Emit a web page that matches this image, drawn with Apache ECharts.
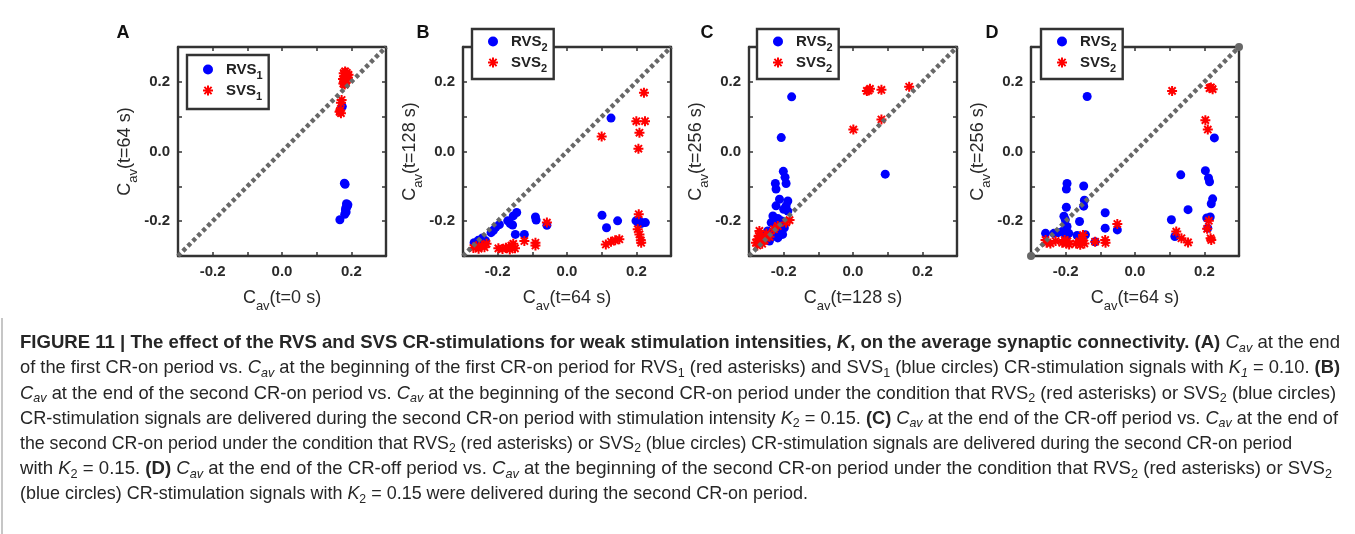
<!DOCTYPE html>
<html><head><meta charset="utf-8">
<script src="https://cdn.jsdelivr.net/npm/echarts@6/dist/echarts.min.js"></script>
<style>html,body{margin:0;padding:0;background:#fff}#c{width:1355px;height:534px}</style>
</head><body><div id="c"></div><script>
// ---------------- data ----------------
const axisMin = -0.3, axisMax = 0.3, axisStep = 0.1;
const tickLabels = ['-0.2', '0.0', '0.2'];
const panelLetters = ['A', 'B', 'C', 'D'];
const xTitles = ['t=0 s', 't=64 s', 't=128 s', 't=64 s'];
const yTitles = ['t=64 s', 't=128 s', 't=256 s', 't=256 s'];
const legendSubs = ['1', '2', '2', '2'];
const diagEnds = [[-0.3, -0.3], [0.3, 0.3]];

const rvsA = [[0.174,0.129],[0.180,-0.091],[0.182,-0.094],[0.167,-0.196],[0.186,-0.150],[0.188,-0.156],[0.184,-0.162],
  [0.183,-0.168],[0.185,-0.174],[0.181,-0.180],[0.190,-0.153],[0.187,-0.160]];
const svsA = [[0.178,0.225],[0.182,0.230],[0.185,0.222],[0.180,0.215],[0.188,0.218],[0.176,0.208],[0.183,0.210],
  [0.190,0.212],[0.186,0.205],[0.179,0.200],[0.184,0.198],[0.181,0.192],[0.187,0.226],[0.192,0.220],[0.177,0.195],
  [0.172,0.148],[0.170,0.140],[0.168,0.118],[0.170,0.110],[0.166,0.114]];

const rvsB = [[0.127,0.096],[-0.268,-0.262],[-0.256,-0.255],[-0.244,-0.248],[-0.235,-0.256],[-0.219,-0.233],[-0.212,-0.226],
  [-0.205,-0.217],[-0.195,-0.210],[-0.171,-0.199],[-0.164,-0.207],[-0.155,-0.185],[-0.145,-0.175],[-0.157,-0.211],
  [-0.149,-0.238],[-0.123,-0.238],[-0.091,-0.188],[-0.089,-0.197],[-0.058,-0.212],[0.101,-0.183],[0.114,-0.219],
  [0.146,-0.199],[0.199,-0.199],[0.205,-0.203],[0.209,-0.200],[0.218,-0.205],[0.226,-0.204],[0.212,-0.207]];
const svsB = [[0.222,0.169],[0.200,0.087],[0.225,0.087],[0.209,0.054],[0.206,0.008],[0.100,0.043],[-0.058,-0.204],
  [0.207,-0.180],[0.204,-0.223],[0.209,-0.238],[0.213,-0.255],[0.214,-0.262],[0.112,-0.267],[0.127,-0.259],[0.139,-0.255],
  [0.151,-0.252],[-0.123,-0.257],[-0.091,-0.262],[-0.091,-0.270],[-0.270,-0.277],[-0.262,-0.272],[-0.255,-0.279],
  [-0.245,-0.270],[-0.238,-0.275],[-0.232,-0.265],[-0.198,-0.278],[-0.186,-0.280],[-0.176,-0.276],[-0.168,-0.274],
  [-0.160,-0.270],[-0.155,-0.265],[-0.150,-0.278],[-0.165,-0.281]];

const rvsC = [[-0.177,0.157],[-0.207,0.040],[0.093,-0.065],[-0.201,-0.057],[-0.196,-0.074],[-0.193,-0.092],[-0.224,-0.092],
  [-0.222,-0.108],[-0.212,-0.137],[-0.222,-0.156],[-0.188,-0.142],[-0.193,-0.156],[-0.200,-0.166],[-0.188,-0.171],
  [-0.231,-0.185],[-0.217,-0.192],[-0.207,-0.199],[-0.236,-0.204],[-0.212,-0.209],[-0.198,-0.219],[-0.222,-0.223],
  [-0.246,-0.228],[-0.203,-0.238],[-0.231,-0.243],[-0.217,-0.248],[-0.250,-0.246],[-0.241,-0.257],[-0.255,-0.240],
  [-0.226,-0.232],[-0.208,-0.228]];
const svsC = [[0.040,0.174],[0.049,0.180],[0.045,0.175],[0.082,0.177],[0.162,0.186],[0.082,0.092],[0.001,0.063],
  [-0.183,-0.197],[-0.193,-0.204],[-0.217,-0.214],[-0.228,-0.223],[-0.270,-0.228],[-0.272,-0.242],[-0.262,-0.246],
  [-0.275,-0.252],[-0.255,-0.255],[-0.268,-0.258],[-0.280,-0.262],[-0.262,-0.265],[-0.241,-0.245],[-0.250,-0.236],
  [-0.276,-0.270]];

const rvsD = [[-0.138,0.158],[0.229,0.039],[0.132,-0.067],[0.203,-0.055],[0.212,-0.076],[0.215,-0.087],[0.224,-0.136],
  [0.220,-0.150],[0.153,-0.167],[0.105,-0.196],[0.207,-0.191],[0.217,-0.188],[0.210,-0.220],[0.115,-0.244],
  [-0.196,-0.092],[-0.198,-0.108],[-0.148,-0.099],[-0.146,-0.140],[-0.148,-0.157],[-0.198,-0.160],[-0.205,-0.186],
  [-0.201,-0.196],[-0.160,-0.201],[-0.086,-0.176],[-0.086,-0.220],[-0.051,-0.225],[-0.258,-0.235],[-0.234,-0.235],
  [-0.210,-0.230],[-0.196,-0.215],[-0.191,-0.235],[-0.167,-0.241],[-0.143,-0.239],[-0.115,-0.259],[-0.198,-0.244],
  [-0.222,-0.233]];
const svsD = [[0.107,0.174],[0.215,0.182],[0.224,0.179],[0.219,0.184],[0.203,0.090],[0.210,0.063],[0.213,-0.199],
  [0.208,-0.222],[0.220,-0.254],[0.218,-0.249],[0.119,-0.230],[0.134,-0.249],[0.153,-0.261],[-0.051,-0.208],
  [-0.258,-0.254],[-0.244,-0.264],[-0.229,-0.257],[-0.203,-0.254],[-0.198,-0.264],[-0.190,-0.267],[-0.195,-0.258],
  [-0.170,-0.264],[-0.160,-0.258],[-0.153,-0.254],[-0.150,-0.240],[-0.146,-0.264],[-0.158,-0.268],[-0.115,-0.259],
  [-0.086,-0.254],[-0.085,-0.262],[-0.255,-0.262],[-0.210,-0.262]];

const rvsSets = [rvsA, rvsB, rvsC, rvsD];
const svsSets = [svsA, svsB, svsC, svsD];

// caption text (style code, text)
const captionLines = [
  [['b','FIGURE 11 | The effect of the RVS and SVS CR-stimulations for weak stimulation intensities, '],['bi','K'],['b',', on the average synaptic connectivity. (A) '],['i','C'],['is','av'],['n',' at the end']],
  [['n','of the first CR-on period vs. '],['i','C'],['is','av'],['n',' at the beginning of the first CR-on period for RVS'],['s','1'],['n',' (red asterisks) and SVS'],['s','1'],['n',' (blue circles) CR-stimulation signals with '],['i','K'],['is','1'],['n',' = 0.10. '],['b','(B)']],
  [['i','C'],['is','av'],['n',' at the end of the second CR-on period vs. '],['i','C'],['is','av'],['n',' at the beginning of the second CR-on period under the condition that RVS'],['s','2'],['n',' (red asterisks) or SVS'],['s','2'],['n',' (blue circles)']],
  [['n','CR-stimulation signals are delivered during the second CR-on period with stimulation intensity '],['i','K'],['s','2'],['n',' = 0.15. '],['b','(C) '],['i','C'],['is','av'],['n',' at the end of the CR-off period vs. '],['i','C'],['is','av'],['n',' at the end of']],
  [['n','the second CR-on period under the condition that RVS'],['s','2'],['n',' (red asterisks) or SVS'],['s','2'],['n',' (blue circles) CR-stimulation signals are delivered during the second CR-on period']],
  [['n','with '],['i','K'],['s','2'],['n',' = 0.15. '],['b','(D) '],['i','C'],['is','av'],['n',' at the end of the CR-off period vs. '],['i','C'],['is','av'],['n',' at the beginning of the second CR-on period under the condition that RVS'],['s','2'],['n',' (red asterisks) or SVS'],['s','2']],
  [['n','(blue circles) CR-stimulation signals with '],['i','K'],['s','2'],['n',' = 0.15 were delivered during the second CR-on period.']]
];

// ---------------- layout / style ----------------
const FF = '"Liberation Sans", Arial, sans-serif';
const AX = '#333333';
const gridLeft = [178, 463, 749, 1031], gridTop = 47, gridW = 208, gridH = 209;
const legLeft = [187, 472, 757, 1041], legTop = [55, 29, 29, 29];
const legPadTop = [7, 5, 5, 5];
const letterPos = [[123, 33], [423, 33], [707, 33], [992, 33]];
const capRight = [1340, 1340, 1336, 1338, 1292, 1332, 808];
const capY0 = 343, capDY = 25.2, capX = 20;
const ASTERISK = 'path://M4.0 0H6.0V10H4.0Z M0 4.0H10V6.0H0Z M0.7 2.1L2.1 0.7L9.3 7.9L7.9 9.3Z M7.9 0.7L9.3 2.1L2.1 9.3L0.7 7.9Z';

function tickFmt(v) {
  const k = Math.round(v * 10);
  if (k % 2 !== 0 || Math.abs(k) > 2) return '';
  return tickLabels[(k + 2) / 2];
}
function axisBase(labels) {
  return {
    type: 'value', min: axisMin, max: axisMax, interval: axisStep,
    splitLine: { show: false },
    axisLine: { show: true, onZero: false, lineStyle: { color: AX, width: 2.4 } },
    axisTick: { show: true, inside: true, length: 4, lineStyle: { color: AX, width: 1.5 } },
    axisLabel: labels ? { show: true, formatter: tickFmt, fontSize: 15, fontWeight: 'bold', fontFamily: FF, color: '#2a2a2a', margin: 8, showMinLabel: true, showMaxLabel: true }
                      : { show: false }
  };
}
const nameRich = {
  c: { fontSize: 18, fontFamily: FF, color: '#2a2a2a', lineHeight: 24 },
  s: { fontSize: 13, fontFamily: FF, color: '#2a2a2a', lineHeight: 24, height: 7, verticalAlign: 'bottom' }
};
const titleStr = t => '{c|C}{s|av}{c|(' + t + ')}';

const grid = [], xAxis = [], yAxis = [], series = [], legend = [], graphic = [];
panelLetters.forEach((L, i) => {
  grid.push({ left: gridLeft[i], top: gridTop, width: gridW, height: gridH, show: false });
  xAxis.push(Object.assign(axisBase(true), { gridIndex: i, position: 'bottom', name: titleStr(xTitles[i]), nameLocation: 'middle', nameGap: 30, nameTextStyle: { rich: nameRich } }));
  xAxis.push(Object.assign(axisBase(false), { gridIndex: i, position: 'top' }));
  yAxis.push(Object.assign(axisBase(true), { gridIndex: i, position: 'left', name: titleStr(yTitles[i]), nameLocation: 'middle', nameGap: 41, nameTextStyle: { rich: nameRich } }));
  yAxis.push(Object.assign(axisBase(false), { gridIndex: i, position: 'right' }));
  const rName = L + '-RVS', sName = L + '-SVS';
  series.push({ type: 'scatter', name: rName, xAxisIndex: 2 * i, yAxisIndex: 2 * i, data: rvsSets[i], symbol: 'circle', symbolSize: 9, itemStyle: { color: '#0000ff', opacity: 1 }, z: 2 });
  series.push({ type: 'scatter', name: sName, xAxisIndex: 2 * i, yAxisIndex: 2 * i, data: svsSets[i], symbol: ASTERISK, symbolSize: 10, itemStyle: { color: '#ff0000', opacity: 1 }, z: 3 });
  series.push({ type: 'line', xAxisIndex: 2 * i, yAxisIndex: 2 * i, data: diagEnds, showSymbol: L === 'D', symbol: 'circle', symbolSize: 8,
    itemStyle: { color: '#686868' }, lineStyle: { color: '#686868', width: 4.5, type: [4, 3] }, z: 4, silent: true, clip: false });
  legend.push({
    left: legLeft[i], top: legTop[i], orient: 'vertical', selectedMode: false,
    data: [{ name: rName, icon: 'circle' }, { name: sName, icon: ASTERISK }],
    itemWidth: 10, itemHeight: 10, itemGap: 2, padding: [legPadTop[i], 6, legPadTop[i], 16],
    borderColor: AX, borderWidth: 2.4, backgroundColor: '#fff', z: 10,
    formatter: n => '{n|' + n.split('-')[1] + '}{s|' + legendSubs[i] + '}',
    textStyle: { rich: {
      n: { fontSize: 15, fontWeight: 'bold', fontFamily: FF, color: '#222', lineHeight: 20, padding: [0, 0, 0, 8] },
      s: { fontSize: 11, fontWeight: 'bold', fontFamily: FF, color: '#222', lineHeight: 20, height: 8, verticalAlign: 'bottom' }
    } }
  });
  graphic.push({ type: 'text', x: letterPos[i][0], y: letterPos[i][1], silent: true,
    style: { text: L, fontSize: 18, fontWeight: 'bold', fontFamily: FF, fill: '#111', align: 'center', verticalAlign: 'middle' } });
});

// caption
const CF = 19, CS = 13;
const capStyleDefs = {
  n: { fontSize: CF, fontWeight: 'normal', fontStyle: 'normal' },
  b: { fontSize: CF, fontWeight: 'bold', fontStyle: 'normal' },
  i: { fontSize: CF, fontWeight: 'normal', fontStyle: 'italic' },
  bi: { fontSize: CF, fontWeight: 'bold', fontStyle: 'italic' },
  s: { fontSize: CS, fontWeight: 'normal', fontStyle: 'normal', sub: true },
  is: { fontSize: CS, fontWeight: 'normal', fontStyle: 'italic', sub: true }
};
const capRich = {};
Object.keys(capStyleDefs).forEach(k => {
  const d = capStyleDefs[k];
  capRich[k] = { fontSize: d.fontSize, fontWeight: d.fontWeight, fontStyle: d.fontStyle, fontFamily: FF, fill: '#262626', color: '#262626', lineHeight: 24 };
  if (d.sub) { capRich[k].height = 14; capRich[k].verticalAlign = 'bottom'; }
});
const mctx = document.createElement('canvas').getContext('2d');
captionLines.forEach((segs, li) => {
  let w = 0, str = '';
  segs.forEach(([st, tx]) => {
    const d = capStyleDefs[st];
    mctx.font = d.fontStyle + ' ' + d.fontWeight + ' ' + d.fontSize + 'px ' + FF;
    w += mctx.measureText(tx).width;
    str += '{' + st + '|' + tx + '}';
  });
  const sx = (capRight[li] - capX) / w;
  graphic.push({ type: 'text', x: capX, y: capY0 + capDY * li, scaleX: sx, scaleY: 1, silent: true,
    style: { text: str, rich: capRich, fontSize: CF, fontFamily: FF, fill: '#262626', align: 'left', verticalAlign: 'middle' } });
});
graphic.push({ type: 'line', silent: true, shape: { x1: 2, y1: 318, x2: 2, y2: 534 }, style: { stroke: '#a0a0a0', lineWidth: 1.2 } });

const chart = echarts.init(document.getElementById('c'), null, { renderer: 'canvas' });
chart.setOption({ animation: false, backgroundColor: '#fff', grid, xAxis, yAxis, series, legend, graphic });
</script></body></html>
